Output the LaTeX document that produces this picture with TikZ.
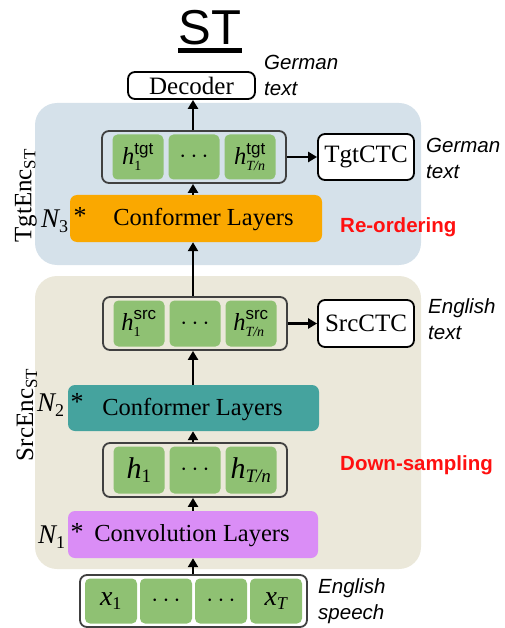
\documentclass[tikz,border=0pt]{standalone}
\usepackage{fontspec}
\setmainfont{Liberation Serif}
\setsansfont{Liberation Sans}
\usetikzlibrary{arrows.meta,calc}

\definecolor{tgtbg}{HTML}{D5E1EA}
\definecolor{srcbg}{HTML}{EBE8DA}
\definecolor{cellgreen}{HTML}{8FC173}
\definecolor{framegray}{HTML}{404040}
\definecolor{convorange}{HTML}{FAA800}
\definecolor{convteal}{HTML}{45A39E}
\definecolor{convpurple}{HTML}{DA8DF6}
\definecolor{stagered}{HTML}{FF1010}

\newcommand{\setfs}[1]{\fontsize{#1}{#1}\selectfont}
% hidden state: letter h with a sans superscript and a subscript
\newcommand{\hstate}[2]{$\mbox{\itshape h}^{\mbox{\setfs{17}\sffamily\upshape #1}}_{\mbox{\setfs{14}#2}}$}
\newcommand{\nlayers}[1]{N\raisebox{-5pt}{\upshape\setfs{18}#1}}
% heavy centred dots
\newcommand{\celldots}{{\setfs{28}$\cdots$}}

\begin{document}
\begin{tikzpicture}[x=1pt,y=-1pt,
  region/.style={rounded corners=22pt, inner sep=0pt},
  rowframe/.style={draw=framegray, line width=1.8pt, rounded corners=7pt, inner sep=0pt},
  cell/.style={fill=cellgreen, rounded corners=5pt, inner sep=0pt,
    minimum width=51pt, minimum height=45pt, font=\setfs{24.5}},
  outbox/.style={draw=black, fill=white, line width=1.8pt, rounded corners=7pt,
    inner sep=0pt, font=\setfs{25}},
  layer/.style={rounded corners=7pt, inner sep=0pt},
  layertext/.style={inner sep=0pt, font=\setfs{24.5}},
  startext/.style={inner sep=0pt, anchor=base, font=\setfs{26}},
  nlabel/.style={inner sep=0pt, anchor=base west, font=\setfs{27}\itshape},
  enclabel/.style={inner sep=0pt, rotate=90, font=\setfs{25}},
  note/.style={inner sep=0pt, anchor=west, align=left,
    font=\sffamily\itshape\fontsize{20.5}{26}\selectfont},
  stage/.style={inner sep=0pt, anchor=base west, text=stagered,
    font=\sffamily\bfseries\setfs{20.5}},
  flow/.style={line width=2.7pt, -{Triangle[length=9pt,width=10pt]}},
]
\useasboundingbox (0,0) rectangle (504,628);

% title
\node[inner sep=0pt, anchor=base, font=\sffamily\setfs{49}] (title) at (210,45) {ST};
\draw[line width=5pt] ($(title.base west)+(0,5.5)$) -- ($(title.base east)+(0,5.5)$);

% encoder regions
\node[region, fill=tgtbg, minimum width=386pt, minimum height=162pt] (tgtenc) at (228,184) {};
\node[region, fill=srcbg, minimum width=386pt, minimum height=293pt] (srcenc) at (228,422.5) {};
\node[enclabel] (tgtlabel) at (26,196) {TgtEnc\raisebox{-4pt}{\setfs{17}ST}};
\node[enclabel] (srclabel) at (27,415) {SrcEnc\raisebox{-4pt}{\setfs{17}ST}};

% decoder
\node[outbox, minimum width=127pt, minimum height=27pt] (dec) at (191.5,85.5) {Decoder};
\node[note] (decnote) at (264,75) {German\\text};

% target hidden states
\node[rowframe, minimum width=184pt, minimum height=52pt] (tgtrow) at (194,157) {};
\node[cell] (tgt1) at (138,157) {\hstate{tgt}{1}};
\node[cell] (tgt2) at (194,157) {\celldots};
\node[cell] (tgt3) at (250,157) {\hstate{tgt}{\itshape T/n}};
\node[outbox, minimum width=96pt, minimum height=46pt] (tgtctc) at (366,157) {TgtCTC};
\node[note] (tgtnote) at (426,158) {German\\text};

% target conformer
\node[layer, fill=convorange, minimum width=252pt, minimum height=47pt] (conf3) at (196,218.5) {};
\node[layertext] (conf3text) at (203.5,219.5) {Conformer Layers};
\node[startext] (star3) at (80,224) {*};
\node[nlabel] (n3) at (41,227) {\nlayers{3}};
\node[stage] (reorder) at (340,232) {Re-ordering};

% source hidden states
\node[rowframe, minimum width=184pt, minimum height=53pt] (srcrow) at (195,323.5) {};
\node[cell, minimum height=46pt] (src1) at (139,323.5) {\hstate{src}{1}};
\node[cell, minimum height=46pt] (src2) at (195,323.5) {\celldots};
\node[cell, minimum height=46pt] (src3) at (251,323.5) {\hstate{src}{\itshape T/n}};
\node[outbox, minimum width=96pt, minimum height=47pt] (srcctc) at (366,323.5) {SrcCTC};
\node[note] (srcnote) at (428,319) {English\\text};

% source conformer
\node[layer, fill=convteal, minimum width=251pt, minimum height=46pt] (conf2) at (193.5,408) {};
\node[layertext] (conf2text) at (192.5,409.5) {Conformer Layers};
\node[startext] (star2) at (77,410.5) {*};
\node[nlabel] (n2) at (37,411) {\nlayers{2}};

% down-sampled states
\node[rowframe, minimum width=184pt, minimum height=54pt] (midrow) at (195,470) {};
\node[cell, minimum height=47pt, font=\setfs{30}] (mid1) at (139,470) {$\mbox{\itshape h}_{\mbox{\setfs{19}1}}$};
\node[cell, minimum height=47pt] (mid2) at (195,470) {\celldots};
\node[cell, minimum height=47pt, font=\setfs{30}] (mid3) at (251,470) {$\mbox{\itshape h}_{\mbox{\setfs{19}\itshape T/n}}$};
\node[stage] (downsample) at (340,470) {Down-sampling};

% convolution
\node[layer, fill=convpurple, minimum width=250pt, minimum height=47pt] (conv) at (193,534.5) {};
\node[layertext] (convtext) at (192,535.5) {Convolution Layers};
\node[startext] (star1) at (77,540) {*};
\node[nlabel] (n1) at (38,543) {\nlayers{1}};

% input features
\node[rowframe, minimum width=227pt, minimum height=52pt] (xrow) at (193.5,601) {};
\node[cell, minimum width=52pt, font=\setfs{28}] (x1) at (111,601) {$\mbox{\itshape x}_{\mbox{\setfs{18}1}}$};
\node[cell, minimum width=52pt] (x2) at (166,601) {\celldots};
\node[cell, minimum width=52pt] (x3) at (221,601) {\celldots};
\node[cell, minimum width=52pt, font=\setfs{28}] (x4) at (276,601) {$\mbox{\itshape x}_{\mbox{\setfs{18}\itshape T}}$};
\node[note] (xnote) at (318,601) {English\\speech};

% data flow
\coordinate (axis) at (193,0);
\draw[flow] (xrow.north -| axis) -- (conv.south -| axis);
\draw[flow] (conv.north -| axis) -- (midrow.south -| axis);
\draw[flow] (midrow.north -| axis) -- (conf2.south -| axis);
\draw[flow] (conf2.north -| axis) -- (srcrow.south -| axis);
\draw[flow] (srcrow.north -| axis) -- (conf3.south -| axis);
\draw[flow] (conf3.north -| axis) -- (tgtrow.south -| axis);
\draw[flow] (tgtrow.north -| axis) -- (dec.south -| axis);
\draw[flow] (tgtrow.east) -- (tgtctc.west);
\draw[flow] (srcrow.east) -- (srcctc.west);
\end{tikzpicture}
\end{document}
